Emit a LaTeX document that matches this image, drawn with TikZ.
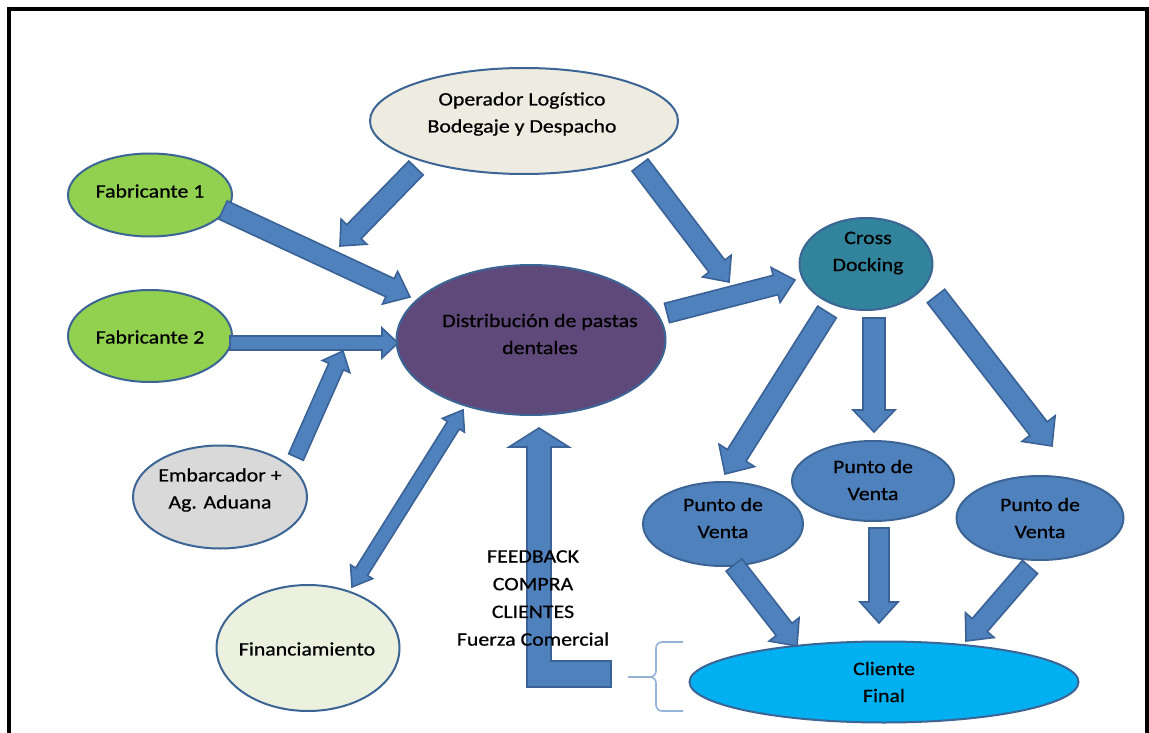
\documentclass[tikz,border=0pt]{standalone}
\usepackage{fontspec}
\setmainfont{Carlito}[FakeStretch=1.15,FakeBold=0.7]
\usetikzlibrary{shapes.geometric,calc}
\definecolor{arrf}{HTML}{4F81BD}
\definecolor{arrd}{HTML}{3A6296}
\definecolor{bordc}{HTML}{3C6494}
\definecolor{opfill}{HTML}{EEECE1}
\definecolor{fabfill}{HTML}{92D050}
\definecolor{distfill}{HTML}{5F497A}
\definecolor{embfill}{HTML}{D9D9D9}
\definecolor{finfill}{HTML}{EBF1DE}
\definecolor{crossfill}{HTML}{31849B}
\definecolor{pvfill}{HTML}{4F81BD}
\definecolor{cffill}{HTML}{00B0F0}
\definecolor{bracec}{HTML}{95B3D7}
\tikzset{
  ell/.style={ellipse, draw=bordc, line width=2pt, inner sep=0pt},
  barr/.style={fill=arrf, draw=arrd, line width=1.6pt, line join=miter},
  lbl/.style={align=center, font=\fontsize{19}{27}\selectfont, text=black, inner sep=0pt},
  bracestyle/.style={draw=bracec, line width=1.6pt, rounded corners=6pt}
}
% single block arrow: from, to, shaft half width, head half width, head length
\newcommand\barrow[5]{%
  \draw[barr] let \p1=(#1), \p2=(#2),
    \n1={atan2(\y2-\y1,\x2-\x1)}, \n2={veclen(\x2-\x1,\y2-\y1)} in
    (\p1) ++({\n1+90}:{#3pt}) -- ++(\n1:{(\n2-#5)*1pt}) -- ++({\n1+90}:{(#4-#3)*1pt})
    -- (\p2) -- ++({\n1-180+atan(#4/#5)}:{veclen(#4,#5)*1pt})
    -- ++({\n1+90}:{(#4-#3)*1pt}) -- ++({\n1+180}:{(\n2-#5)*1pt}) -- cycle;}
% double block arrow
\newcommand\dbarrow[5]{%
  \draw[barr] let \p1=(#1), \p2=(#2),
    \n1={atan2(\y2-\y1,\x2-\x1)}, \n2={veclen(\x2-\x1,\y2-\y1)} in
    (\p1) -- ++({\n1+atan(#4/#5)}:{veclen(#4,#5)*1pt}) -- ++({\n1-90}:{(#4-#3)*1pt})
    -- ++(\n1:{(\n2-2*#5)*1pt}) -- ++({\n1+90}:{(#4-#3)*1pt})
    -- (\p2) -- ++({\n1-180+atan(#4/#5)}:{veclen(#4,#5)*1pt})
    -- ++({\n1+90}:{(#4-#3)*1pt}) -- ++({\n1+180}:{(\n2-2*#5)*1pt})
    -- ++({\n1-90}:{(#4-#3)*1pt}) -- cycle;}
\begin{document}
\begin{tikzpicture}[x=1pt,y=-1pt]
\useasboundingbox (0,0) rectangle (1149,733);
\fill[white] (0,0) rectangle (1149,733);
\draw[line width=4pt] (9,9) rectangle (1147,760);

% ellipses
\node[ell, fill=opfill, minimum width=308pt, minimum height=106pt] (op) at (524,121) {};
\node[ell, fill=fabfill, minimum width=164pt, minimum height=83pt] (fab1) at (150,195) {};
\node[ell, fill=fabfill, minimum width=164pt, minimum height=92pt] (fab2) at (150,336) {};
\node[ell, fill=distfill, minimum width=269pt, minimum height=150pt] (dist) at (531,340) {};
\node[ell, fill=embfill, minimum width=174pt, minimum height=103pt] (emb) at (220,497) {};
\node[ell, fill=finfill, minimum width=183pt, minimum height=126pt] (fin) at (308,648) {};
\node[ell, fill=crossfill, minimum width=133pt, minimum height=92pt] (cross) at (866,264) {};
\node[ell, fill=pvfill, minimum width=160pt, minimum height=84pt] (pvl) at (723,524) {};
\node[ell, fill=pvfill, minimum width=162pt, minimum height=80pt] (pvm) at (873,481) {};
\node[ell, fill=pvfill, minimum width=167pt, minimum height=84pt] (pvr) at (1040,518) {};
\node[ell, fill=cffill, minimum width=389pt, minimum height=81pt] (cf) at (884,682) {};

% arrow end points
\coordinate (a1s) at (416,168); \coordinate (a1e) at (340,246);
\coordinate (a2s) at (640,165); \coordinate (a2e) at (729,282);
\coordinate (a3s) at (223,210); \coordinate (a3e) at (410,297);
\coordinate (a4s) at (230,343); \coordinate (a4e) at (398,343);
\coordinate (a5s) at (296,457); \coordinate (a5e) at (343,351);
\coordinate (a6s) at (352,587); \coordinate (a6e) at (463,410);
\coordinate (a7s) at (667,313); \coordinate (a7e) at (795,280);
\coordinate (a8s) at (827,312); \coordinate (a8e) at (725,474);
\coordinate (a9s) at (874,318); \coordinate (a9e) at (874,432);
\coordinate (a10s) at (936,296); \coordinate (a10e) at (1052,446);
\coordinate (a11s) at (734,565); \coordinate (a11e) at (797,646);
\coordinate (a12s) at (879,528); \coordinate (a12e) at (879,623);
\coordinate (a13s) at (1030,567); \coordinate (a13e) at (966,641);

\barrow{a1s}{a1e}{10}{18}{20}
\barrow{a2s}{a2e}{10}{18}{20}
\barrow{a3s}{a3e}{10}{18}{22}
\barrow{a4s}{a4e}{7}{15}{16}
\barrow{a5s}{a5e}{8}{15}{17}
\dbarrow{a6s}{a6e}{7}{13}{18}
\barrow{a7s}{a7e}{10}{18}{20}
\barrow{a8s}{a8e}{11}{21}{22}
\barrow{a9s}{a9e}{11}{21}{22}
\barrow{a10s}{a10e}{11}{21}{22}
\barrow{a11s}{a11e}{10}{19}{21}
\barrow{a12s}{a12e}{10}{19}{21}
\barrow{a13s}{a13e}{10}{19}{21}

% feedback bent arrow
\coordinate (fbtip) at (539,428);
\draw[barr] (527,687) -- (527,447) -- (509,447) -- (fbtip) -- (569,447) -- (551,447)
  -- (551,661) -- (611,661) -- (611,687) -- cycle;

% brace
\draw[bracestyle] (683,642) -- (656,642) -- (656,677) -- (648,677);
\draw[bracestyle] (648,677) -- (656,677) -- (656,711) -- (683,711);
\draw[draw=bracec, line width=1.6pt] (628,677) -- (650,677);

% labels
\node[lbl] (top) at (522,114) {Operador Logístico\\Bodegaje y Despacho};
\node[lbl] (f1t) at (150,191) {Fabricante 1};
\node[lbl] (f2t) at (150,337) {Fabricante 2};
\node[lbl] (dt) at (540,334) {Distribución de pastas\\dentales};
\node[lbl] (et) at (220,490) {Embarcador +\\Ag. Aduana};
\node[lbl] (fit) at (307,649) {Financiamiento};
\node[lbl] (ct) at (868,253) {Cross\\Docking};
\node[lbl] (pvlt) at (723,518) {Punto de\\Venta};
\node[lbl] (pvmt) at (873,480) {Punto de\\Venta};
\node[lbl] (pvrt) at (1040,518) {Punto de\\Venta};
\node[lbl] (cft) at (884,682) {Cliente\\Final};
\node[lbl, font=\fontsize{19}{27.7}\selectfont] (fbt) at (533,598) {FEEDBACK\\COMPRA\\CLIENTES\\Fuerza Comercial};
\end{tikzpicture}
\end{document}
